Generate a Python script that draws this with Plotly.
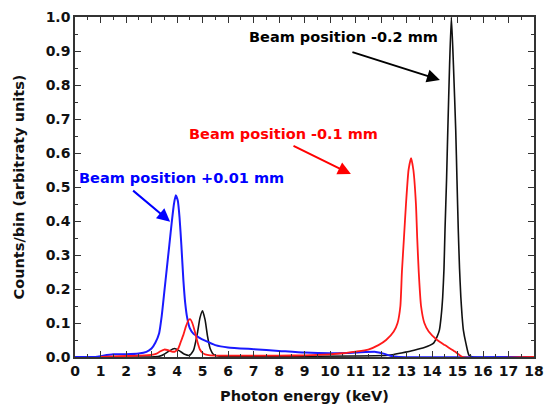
import plotly.graph_objects as go

# Photon energy spectra for three beam positions
black_e = [0, 3.0, 3.3, 3.5, 3.7, 3.9, 4.1, 4.3, 4.5, 4.65, 4.8, 4.9, 5.0, 5.1, 5.2, 5.3, 5.45, 5.7,
           8.0, 11.0, 12.3, 12.8, 13.3, 13.7, 14.05, 14.2, 14.29, 14.36, 14.42, 14.47, 14.51, 14.57,
           14.62, 14.69, 14.76, 14.84, 14.93, 14.98, 15.03, 15.08, 15.13, 15.18, 15.23, 15.33, 15.45,
           15.6, 18.0]
black_c = [0, 0, 0.002, 0.008, 0.018, 0.025, 0.018, 0.008, 0.005, 0.02, 0.07, 0.115, 0.136, 0.11,
           0.06, 0.025, 0.006, 0.002, 0.002, 0.003, 0.005, 0.012, 0.02, 0.028, 0.04, 0.06, 0.079,
           0.12, 0.177, 0.26, 0.374, 0.52, 0.668, 0.86, 1.0, 0.86, 0.668, 0.52, 0.374, 0.26, 0.177,
           0.12, 0.079, 0.04, 0.005, 0, 0]

blue_e = [0, 0.8, 1.1, 1.5, 2.0, 2.5, 2.8, 3.0, 3.15, 3.3, 3.4, 3.5, 3.6, 3.7, 3.8, 3.88, 3.95,
          4.03, 4.1, 4.17, 4.25, 4.32, 4.4, 4.5, 4.65, 4.85, 5.1, 5.5, 6.0, 7.0, 8.0, 9.0,
          10.0, 11.0, 11.8, 12.1, 12.4, 12.7, 18.0]
blue_c = [0, 0, 0.004, 0.008, 0.008, 0.01, 0.015, 0.025, 0.042, 0.07, 0.12, 0.19, 0.26, 0.33,
          0.40, 0.45, 0.476, 0.46, 0.41, 0.33, 0.226, 0.16, 0.115, 0.085, 0.068, 0.058,
          0.048, 0.035, 0.028, 0.023, 0.018, 0.013, 0.011, 0.013, 0.015, 0.01, 0.003, 0, 0]

red_e = [1.0, 1.5, 2.0, 2.5, 3.0, 3.2, 3.35, 3.5, 3.65, 3.8, 3.92, 4.05, 4.15, 4.25, 4.35, 4.45,
         4.52, 4.6, 4.7, 4.8, 4.9, 5.0, 5.1, 5.3, 6.0, 7.0, 8.0, 9.0, 10.0, 10.5, 11.0, 11.5, 11.9,
         12.2, 12.5, 12.65, 12.76, 12.82, 12.9, 12.98, 13.08, 13.18, 13.27, 13.37, 13.42, 13.48,
         13.57, 13.7, 13.87, 14.2, 14.5, 14.9, 15.2, 18.0]
red_c = [0, 0.002, 0.003, 0.004, 0.006, 0.01, 0.017, 0.022, 0.02, 0.016, 0.016, 0.025, 0.045,
         0.065, 0.09, 0.108, 0.111, 0.1, 0.075, 0.045, 0.022, 0.012, 0.008, 0.005, 0.004, 0.004,
         0.004, 0.005, 0.008, 0.011, 0.016, 0.022, 0.035, 0.05, 0.075, 0.1, 0.15, 0.25, 0.35,
         0.45, 0.55, 0.585, 0.55, 0.45, 0.35, 0.25, 0.15, 0.1, 0.075, 0.05, 0.035, 0.016, 0, 0]

x_ticks = list(range(0, 19))
y_ticks = [0.0, 0.1, 0.2, 0.3, 0.4, 0.5, 0.6, 0.7, 0.8, 0.9, 1.0]

FONT = "DejaVu Sans"

fig = go.Figure()
fig.add_trace(go.Scatter(x=black_e, y=black_c, mode="lines",
                         line=dict(color="#111111", width=1.6, shape="spline", smoothing=0.5)))
fig.add_trace(go.Scatter(x=blue_e, y=blue_c, mode="lines",
                         line=dict(color="#1a1aff", width=2, shape="spline", smoothing=0.5)))
fig.add_trace(go.Scatter(x=red_e, y=red_c, mode="lines",
                         line=dict(color="#ff1a1a", width=1.8, shape="spline", smoothing=0.5)))

labels = [
    # text, color, text x, text y, arrow tail (x, y), arrow head (x, y)
    ("Beam position -0.2 mm", "#000000", 10.53, 0.94, (10.82, 0.898), (14.31, 0.815)),
    ("Beam position -0.1 mm", "#ff0000", 8.18, 0.657, (8.51, 0.623), (10.82, 0.538)),
    ("Beam position +0.01 mm", "#0000ff", 4.18, 0.527, (2.22, 0.493), (3.73, 0.398)),
]
for text, color, tx, ty, tail, head in labels:
    fig.add_annotation(x=tx, y=ty, xref="x", yref="y", text=f"<b>{text}</b>",
                       showarrow=False, font=dict(family=FONT, size=14.5, color=color))
    fig.add_annotation(x=head[0], y=head[1], ax=tail[0], ay=tail[1], xref="x", yref="y",
                       axref="x", ayref="y", text="", showarrow=True, arrowhead=2,
                       arrowsize=1.3, arrowwidth=2, arrowcolor=color)

axis_common = dict(showline=True, linecolor="#333333", linewidth=1.5, mirror="allticks",
                   ticks="inside", ticklen=6, tickwidth=1.3, tickcolor="#333333",
                   showgrid=False, zeroline=False, automargin=False,
                   tickfont=dict(family=FONT, size=14, color="#111111"))

fig.update_xaxes(range=[0, 18], tickvals=x_ticks, ticktext=[f"<b>{v}</b>" for v in x_ticks],
                 minor=dict(dtick=0.5, tick0=0, ticks="inside", ticklen=3.5,
                            tickcolor="#333333", tickwidth=1.2),
                 title=dict(text="<b>Photon energy (keV)</b>", standoff=13,
                            font=dict(family=FONT, size=14.5, color="#111111")),
                 **axis_common)
fig.update_yaxes(range=[0, 1.0], tickvals=y_ticks, ticktext=[f"<b>{v:.1f}</b>" for v in y_ticks],
                 minor=dict(dtick=0.05, tick0=0, ticks="inside", ticklen=3.5,
                            tickcolor="#333333", tickwidth=1.2),
                 title=dict(text="<b>Counts/bin (arbitraty units)</b>", standoff=18,
                            font=dict(family=FONT, size=14.5, color="#111111")),
                 **axis_common)

fig.update_layout(width=544, height=410, margin=dict(l=75, r=10, t=17, b=53),
                  plot_bgcolor="white", paper_bgcolor="white", showlegend=False)

fig.write_html("out.html")
